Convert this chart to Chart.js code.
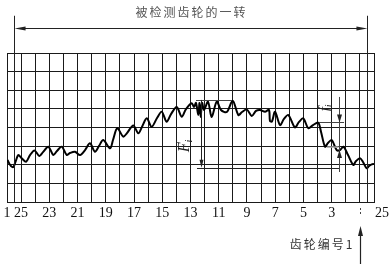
<!DOCTYPE html>
<html><head><meta charset="utf-8">
<script src="https://cdn.jsdelivr.net/npm/chart.js@4.4.0/dist/chart.umd.min.js"></script>
<style>html,body{margin:0;padding:0;background:#fff;}#wrap{width:389px;height:267px;position:relative;}</style>
</head><body><div id="wrap"><canvas id="c"></canvas></div>
<script>
// Tooth numbers along the x axis (index 0..26)
const toothLabels = ['1','25','','23','','21','','19','','17','','15','','13','','11','','9','','7','','5','','3','','','25'];
// Grid divisions
const xGrid = [0,1,2,3,4,5,6,7,8,9,10,11,12,13,14,15,16,17,18,19,20,21,22,23,24,25,26];
const yGrid = [0,1,2,3,4,5,6,7,8];
// Recorded single-flank error curve (x in tooth pitches, y in grid divisions)
const curveX = [0.04,0.14,0.28,0.45,0.60,0.80,1.04,1.35,1.63,1.95,2.29,2.55,2.93,3.28,3.54,3.88,4.23,4.46,4.82,5.17,5.53,5.88,6.23,6.52,6.82,7.30,7.51,7.81,8.24,8.50,8.95,9.30,9.56,9.90,10.25,10.63,10.96,11.31,11.62,12.02,12.38,12.68,13.09,13.25,13.39,13.55,13.64,13.72,13.82,13.96,14.24,14.50,14.86,15.16,15.57,15.99,16.39,16.65,16.98,17.34,17.64,17.92,18.28,18.56,18.63,18.77,18.99,19.34,19.62,19.93,20.40,20.69,20.99,21.35,21.68,22.05,22.25,22.53,22.74,23.00,23.36,23.59,23.83,24.16,24.53,24.73,25.01,25.22,25.48,25.65,25.84,26.00];
const curveY = [2.26,2.09,1.93,1.88,2.15,2.52,2.35,2.16,2.52,2.77,2.47,2.68,2.97,2.52,2.74,2.97,2.52,2.63,2.70,2.52,2.79,3.15,2.70,3.01,3.33,2.88,3.33,3.96,3.51,3.70,4.11,3.69,4.03,4.49,4.04,4.51,4.85,4.31,4.72,5.10,4.58,4.99,5.30,5.10,5.32,4.67,5.32,4.56,5.32,4.94,5.39,4.56,5.40,4.94,4.83,5.44,4.67,4.83,4.97,4.62,4.89,4.94,4.85,4.94,4.35,4.32,4.85,4.13,4.46,4.67,4.01,4.30,4.49,3.96,4.13,4.26,3.76,2.97,3.17,3.33,2.79,2.79,2.97,2.52,1.99,2.20,2.35,2.15,1.81,1.93,2.02,2.04];
const titleText = '被检测齿轮的一转';
const startText = '齿轮编号1';
const bigLabel = ['F', '′', 'i'];
const smallLabel = ['f', '′', 'i'];

const points = curveX.map((x, i) => ({x, y: curveY[i]}));

function seg(ctx, x1, y1, x2, y2, w, col, dash) {
  ctx.save(); ctx.beginPath(); ctx.lineWidth = w; ctx.strokeStyle = col;
  if (dash) ctx.setLineDash(dash);
  ctx.moveTo(x1, y1); ctx.lineTo(x2, y2); ctx.stroke(); ctx.restore();
}
function head(ctx, tx, ty, dx, dy, len, half, col) {
  ctx.save(); ctx.fillStyle = col; ctx.beginPath();
  const bx = tx - dx * len, by = ty - dy * len;
  ctx.moveTo(tx, ty);
  ctx.lineTo(bx - dy * half, by + dx * half);
  ctx.lineTo(bx + dy * half, by - dx * half);
  ctx.closePath(); ctx.fill(); ctx.restore();
}
function rotLabel(ctx, x, y, parts, size) {
  ctx.save(); ctx.translate(x, y); ctx.rotate(-Math.PI / 2);
  ctx.fillStyle = '#222'; ctx.textBaseline = 'alphabetic'; ctx.textAlign = 'left';
  ctx.font = 'italic ' + size + 'px "Liberation Serif"';
  const w0 = ctx.measureText(parts[0]).width;
  const start = -(w0 + size * 0.3) / 2;
  const base = size * 0.35;
  ctx.fillText(parts[0], start, base);
  ctx.font = Math.round(size * 0.7) + 'px "Liberation Serif"';
  ctx.fillText(parts[1], start + w0 - 1, base - size * 0.35);
  ctx.font = 'italic ' + Math.round(size * 0.65) + 'px "Liberation Serif"';
  ctx.fillText(parts[2], start + w0, base + size * 0.2);
  ctx.restore();
}

const annot = {
  id: 'annot',
  afterDraw(chart) {
    const ctx = chart.ctx, xs = chart.scales.x, ys = chart.scales.y;
    const X = v => xs.getPixelForValue(v), Y = v => ys.getPixelForValue(v);
    const ink = '#222';
    ctx.save();
    ctx.font = '14px "Liberation Serif"'; ctx.fillStyle = '#111';
    ctx.textAlign = 'center'; ctx.textBaseline = 'middle';
    toothLabels.forEach((t, i) => {
      if (!t) return;
      let x = X(i);
      if (i === toothLabels.length - 1) x += 8;
      ctx.fillText(t, x, ys.bottom + 11);
    });
    seg(ctx, Math.round(X(0.5)) + 0.5, Y(10), Math.round(X(0.5)) + 0.5, ys.bottom, 1, ink);
    seg(ctx, Math.round(X(25.5)) + 0.5, Y(10), Math.round(X(25.5)) + 0.5, ys.bottom, 1, ink);
    const yd = Math.round(Y(9.32)) + 0.5;
    seg(ctx, X(0.5) + 6, yd, X(25.5) - 6, yd, 1, ink);
    head(ctx, X(0.5) + 0.5, yd, -1, 0, 11, 2, ink);
    head(ctx, X(25.5) + 0.5, yd, 1, 0, 11, 2, ink);
    ctx.font = '12px "Noto Sans CJK SC"'; ctx.fillStyle = '#555';
    ctx.letterSpacing = '2px'; ctx.textAlign = 'center'; ctx.textBaseline = 'middle';
    ctx.fillText(titleText, X(13) + 1, Y(10.19));
    const xa = Math.round(X(25)) + 0.5;
    seg(ctx, xa, ys.bottom + 6, xa, ys.bottom + 13, 1, '#444', [2, 2]);
    seg(ctx, xa, ys.bottom + 30, xa, ys.bottom + 62, 1.2, ink);
    head(ctx, xa, ys.bottom + 24, 0, -1, 10, 2.5, ink);
    ctx.font = '12px "Noto Sans CJK SC"'; ctx.fillStyle = '#333';
    ctx.letterSpacing = '2px'; ctx.textAlign = 'right';
    ctx.fillText(startText, xa - 6, ys.bottom + 42);
    ctx.letterSpacing = '0px';
    seg(ctx, X(13.39), Math.round(Y(5.48)) + 0.5, X(15.94), Math.round(Y(5.48)) + 0.5, 1, '#444');
    const xf = Math.round(X(13.72)) + 0.5;
    seg(ctx, xf, Y(5.48), xf, Y(1.84) - 6, 1, ink);
    head(ctx, xf, Y(1.84), 0, 1, 8, 2, ink);
    seg(ctx, X(13.46), Math.round(Y(1.84)) + 0.5, X(23.59), Math.round(Y(1.84)) + 0.5, 1, ink);
    rotLabel(ctx, X(12.5), Y(3.06), bigLabel, 16);
    const xs2 = Math.round(X(23.49)) + 0.5;
    seg(ctx, xs2, Y(5.64), xs2, Y(1.61), 1, '#444');
    head(ctx, xs2, Y(4.27), 0, 1, 8, 2.5, ink);
    seg(ctx, X(22.1), Math.round(Y(4.27)) + 0.5, X(23.88), Math.round(Y(4.27)) + 0.5, 1, '#444');
    head(ctx, xs2, Y(2.79), 0, -1, 8, 2.5, ink);
    seg(ctx, X(22.67), Y(2.95), X(23.49), Y(2.95), 1.5, '#aaa');
    rotLabel(ctx, X(22.45), Y(5.1), smallLabel, 15);
    ctx.restore();
  }
};

new Chart(document.getElementById('c'), {
  type: 'line',
  data: { datasets: [{ data: points, borderColor: '#000', borderWidth: 2, pointRadius: 0, tension: 0.3, fill: false }] },
  options: {
    responsive: true, maintainAspectRatio: false, animation: false, devicePixelRatio: 1,
    layout: { padding: { left: 7, right: 15, top: 53, bottom: 65 } },
    plugins: { legend: { display: false }, tooltip: { enabled: false }, title: { display: false } },
    scales: {
      x: { type: 'linear', min: 0, max: 26,
        afterBuildTicks: s => { s.ticks = xGrid.map(v => ({ value: v })); },
        ticks: { display: false },
        grid: { color: '#1a1a1a', lineWidth: 1, drawTicks: false },
        border: { display: true, color: '#1a1a1a', width: 1 } },
      y: { type: 'linear', min: 0, max: 8,
        afterBuildTicks: s => { s.ticks = yGrid.map(v => ({ value: v })); },
        ticks: { display: false },
        grid: { color: '#1a1a1a', lineWidth: 1, drawTicks: false },
        border: { display: true, color: '#1a1a1a', width: 1 } }
    }
  },
  plugins: [annot]
});
</script></body></html>
